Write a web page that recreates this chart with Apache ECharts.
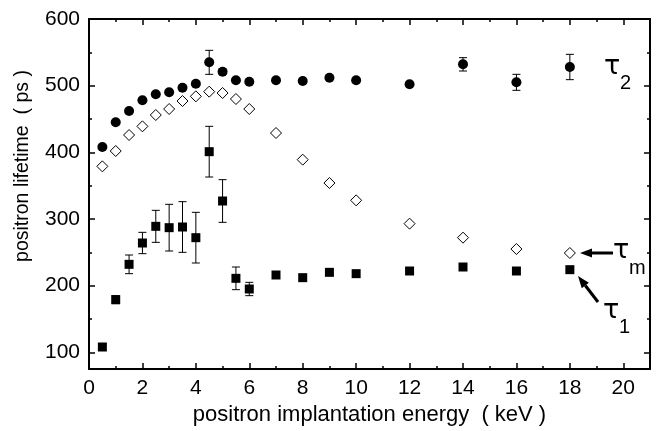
<!DOCTYPE html>
<html>
<head>
<meta charset="utf-8">
<script src="https://cdn.jsdelivr.net/npm/echarts@6/dist/echarts.min.js"></script>
<style>
  html, body { margin: 0; padding: 0; background: #fff; }
  #main { width: 657px; height: 431px; }
</style>
</head>
<body>
<div id="main"></div>
<script>
// implantation energy (keV)
var energy = [0.5, 1, 1.5, 2, 2.5, 3, 3.5, 4, 4.5, 5, 5.5, 6, 7, 8, 9, 10, 12, 14, 16, 18];
// tau2, filled circles
var tau2 = [408, 445, 462, 478, 487, 490, 497, 503, 535, 521, 508, 506, 508, 507, 512, 508, 502, 532, 505, 528];
var tau2Err = [0, 0, 0, 0, 0, 0, 0, 0, 18, 4, 0, 0, 0, 0, 0, 0, 0, 10, 12, 19];
// tau_m, open diamonds
var tauM = [379, 402, 426, 439, 456, 465, 477, 484, 491, 489, 480, 465, 429, 389, 354, 328, 293, 272, 255, 249];
// tau1, filled squares
var tau1 = [108, 179, 232, 264, 289, 287, 288, 272, 401, 327, 211, 195, 216, 212, 220, 218, 222, 228, 222, 224];
var tau1Err = [5, 6, 14, 16, 24, 35, 38, 38, 38, 32, 17, 10, 0, 0, 0, 0, 0, 0, 0, 0];

// tick positions
var xMajor = [0, 2, 4, 6, 8, 10, 12, 14, 16, 18, 20];
var xMinor = [1, 3, 5, 7, 9, 11, 13, 15, 17, 19];
var yMajor = [100, 200, 300, 400, 500, 600];
var yMinor = [150, 250, 350, 450, 550];

var FONT = '"Liberation Sans", Arial, sans-serif';

function pairs(ys) {
  return energy.map(function (e, i) { return [e, ys[i]]; });
}
function errData(ys, errs) {
  var out = [];
  for (var i = 0; i < energy.length; i++) {
    if (errs[i] > 0) out.push([energy[i], ys[i] - errs[i], ys[i] + errs[i]]);
  }
  return out;
}
function errRender(params, api) {
  var x = api.value(0);
  var top = api.coord([x, api.value(2)]);
  var bot = api.coord([x, api.value(1)]);
  var w = 4;
  var st = { stroke: '#000', lineWidth: 1 };
  return {
    type: 'group',
    children: [
      { type: 'line', shape: { x1: top[0], y1: top[1], x2: bot[0], y2: bot[1] }, style: st },
      { type: 'line', shape: { x1: top[0] - w, y1: top[1], x2: top[0] + w, y2: top[1] }, style: st },
      { type: 'line', shape: { x1: bot[0] - w, y1: bot[1], x2: bot[0] + w, y2: bot[1] }, style: st }
    ]
  };
}

function xAx(pos, ticks, len, labels, line) {
  return {
    type: 'value', position: pos, min: 0, max: 21,
    splitLine: { show: false },
    axisLine: { show: line, onZero: false, lineStyle: { color: '#000', width: 2 } },
    axisTick: { show: true, inside: true, length: len, customValues: ticks, lineStyle: { color: '#000', width: 1.5 } },
    axisLabel: labels ? { show: true, customValues: ticks, margin: 9, color: '#000', fontSize: 21, fontFamily: FONT } : { show: false }
  };
}
function yAx(pos, ticks, len, labels, line) {
  return {
    type: 'value', position: pos, min: 75, max: 600,
    splitLine: { show: false },
    axisLine: { show: line, onZero: false, lineStyle: { color: '#000', width: 2 } },
    axisTick: { show: true, inside: true, length: len, customValues: ticks, lineStyle: { color: '#000', width: 1.5 } },
    axisLabel: labels ? { show: true, customValues: ticks, margin: 9, color: '#000', fontSize: 21, fontFamily: FONT } : { show: false }
  };
}

var xBottom = xAx('bottom', xMajor, 6, true, true);
xBottom.name = 'positron implantation energy  ( keV )';
xBottom.nameLocation = 'middle';
xBottom.nameGap = 33;
xBottom.nameTextStyle = { color: '#000', fontSize: 22, fontFamily: FONT };

var yLeft = yAx('left', yMajor, 6, true, true);
yLeft.name = 'positron lifetime  ( ps )';
yLeft.nameLocation = 'middle';
yLeft.nameGap = 56;
yLeft.nameTextStyle = { color: '#000', fontSize: 19.5, fontFamily: FONT, padding: [0, 0, 0, 56] };

function arrow(x1, y1, x2, y2) {
  // shaft from (x1,y1) to tip (x2,y2)
  var dx = x2 - x1, dy = y2 - y1, L = Math.sqrt(dx * dx + dy * dy);
  var ux = dx / L, uy = dy / L, hl = 12, hw = 4.5;
  var bx = x2 - ux * hl, by = y2 - uy * hl;
  return [
    { type: 'line', shape: { x1: x1, y1: y1, x2: bx, y2: by }, style: { stroke: '#000', lineWidth: 3 } },
    { type: 'polygon', shape: { points: [[x2, y2], [bx - uy * hw, by + ux * hw], [bx + uy * hw, by - ux * hw]] }, style: { fill: '#000' } }
  ];
}

var TAU = '"DejaVu Sans", sans-serif';
var graphics = [
  { type: 'text', left: 604, top: 53, style: { text: 'τ', font: '27px ' + TAU, fill: '#000' } },
  { type: 'text', left: 620, top: 73, style: { text: '2', font: '20px ' + FONT, fill: '#000' } },
  { type: 'text', left: 613, top: 237, style: { text: 'τ', font: '27px ' + TAU, fill: '#000' } },
  { type: 'text', left: 629, top: 258, style: { text: 'm', font: '20px ' + FONT, fill: '#000' } },
  { type: 'text', left: 603, top: 297, style: { text: 'τ', font: '27px ' + TAU, fill: '#000' } },
  { type: 'text', left: 619, top: 317, style: { text: '1', font: '20px ' + FONT, fill: '#000' } }
].concat(arrow(613, 253, 580, 253)).concat(arrow(598, 302, 578, 276));

var chart = echarts.init(document.getElementById('main'));
chart.setOption({
  animation: false,
  backgroundColor: '#fff',
  grid: { left: 89, top: 19, right: 7, bottom: 62 },
  xAxis: [
    xBottom,
    xAx('bottom', xMinor, 3, false, false),
    xAx('top', xMajor, 6, false, true),
    xAx('top', xMinor, 3, false, false)
  ],
  yAxis: [
    yLeft,
    yAx('left', yMinor, 3, false, false),
    yAx('right', yMajor, 6, false, true),
    yAx('right', yMinor, 3, false, false)
  ],
  graphic: graphics,
  series: [
    { type: 'custom', renderItem: errRender, data: errData(tau2, tau2Err), z: 1, encode: { x: 0, y: [1, 2] } },
    { type: 'custom', renderItem: errRender, data: errData(tau1, tau1Err), z: 1, encode: { x: 0, y: [1, 2] } },
    { type: 'scatter', name: 'tau2', data: pairs(tau2), symbol: 'circle', symbolSize: 10, itemStyle: { color: '#000', opacity: 1 }, z: 3 },
    { type: 'scatter', name: 'tauM', data: pairs(tauM), symbol: 'diamond', symbolSize: 11, itemStyle: { color: '#fff', borderColor: '#000', borderWidth: 1, opacity: 1 }, z: 3 },
    { type: 'scatter', name: 'tau1', data: pairs(tau1), symbol: 'rect', symbolSize: 9, itemStyle: { color: '#000', opacity: 1 }, z: 3 }
  ]
});
</script>
</body>
</html>
